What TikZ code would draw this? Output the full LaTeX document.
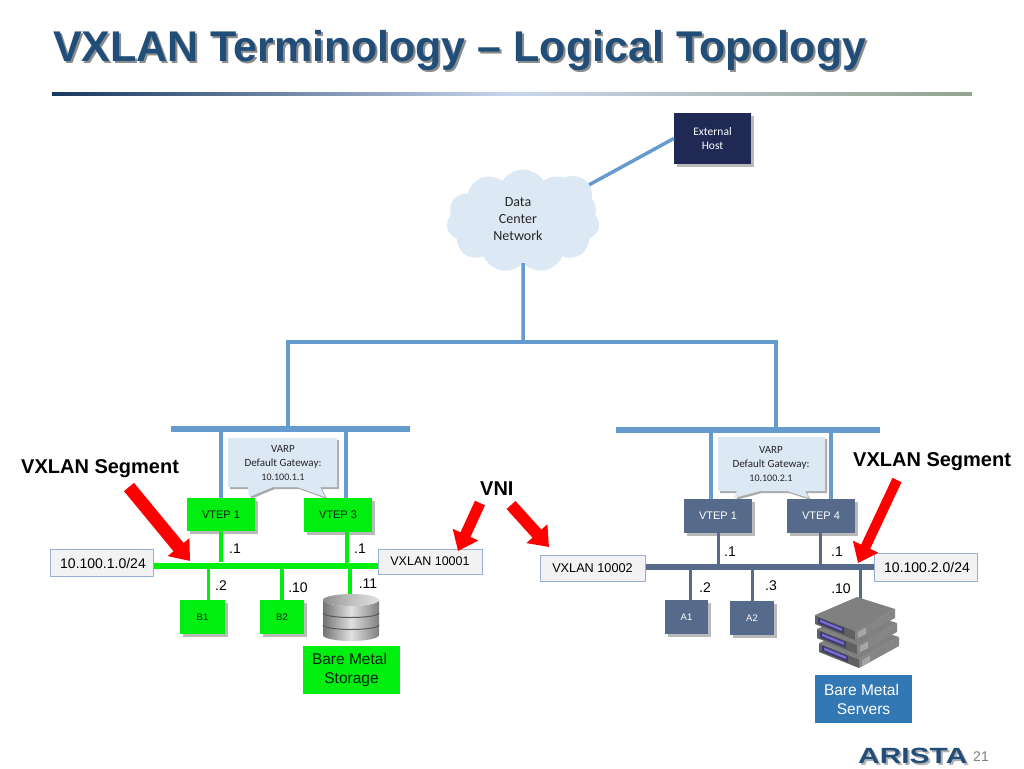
\documentclass[tikz,border=0pt]{standalone}
\usepackage{fontspec}
\setmainfont{Liberation Sans}
\newfontfamily\calibrifont{Carlito}
\newfontfamily\logofont[FakeStretch=1.36]{Liberation Sans}
\usetikzlibrary{arrows.meta,shadows,shapes.symbols}
\definecolor{linkblue}{RGB}{101,155,207}
\definecolor{pale}{RGB}{220,232,244}
\definecolor{bright}{RGB}{0,238,16}
\definecolor{slate}{RGB}{86,106,139}
\definecolor{titleblue}{RGB}{32,78,121}
\definecolor{hostnavy}{RGB}{32,41,84}
\definecolor{tagedge}{RGB}{150,175,212}
\definecolor{serverblue}{RGB}{50,120,180}
\definecolor{ruledark}{RGB}{23,55,94}
\definecolor{rulemid}{RGB}{200,214,236}
\definecolor{ruleend}{RGB}{147,164,143}
\definecolor{stripdark}{RGB}{62,58,110}
\definecolor{striplight}{RGB}{120,110,205}
\def\shadowtext#1#2{\makebox[0pt][l]{\hspace{2pt}\raisebox{-2pt}{\color{#1}#2}}#2}
\def\serverunit(#1,#2){
	\begin{scope}[shift={(#1,#2)}]
		\fill[black!62] (815,615) -- (855,631) -- (855,640) -- (815,624) -- cycle;
		\fill[black!48] (855,631) -- (895,609) -- (895,618) -- (855,640) -- cycle;
		\fill[black!50] (815,615) -- (857,597) -- (895,609) -- (855,631) -- cycle;
		\fill[stripdark] (818,617.5) -- (844,628) -- (844,634) -- (818,623.5) -- cycle;
		\fill[striplight] (820,619.5) -- (842,628.5) -- (842,631) -- (820,622) -- cycle;
		\fill[black!35] (858,632) -- (866,627.5) -- (866,634) -- (858,638) -- cycle;
	\end{scope}
}
\tikzset{
	link/.style={draw=linkblue, line width=3.5pt},
	busbar/.style={rectangle, inner sep=0pt, minimum height=6pt},
	greenlink/.style={draw=bright, line width=3.5pt},
	slatelink/.style={draw=slate, line width=3pt},
	softshadow/.style={drop shadow={shadow xshift=2.5pt, shadow yshift=-2.5pt, fill=black!55, opacity=.5}},
	greenbox/.style={rectangle, inner sep=0pt, fill=bright, softshadow, text=black!85!bright, font=\fontsize{11}{13}\selectfont},
	slatebox/.style={rectangle, inner sep=0pt, fill=slate, softshadow, text=white, font=\fontsize{11}{13}\selectfont},
	tagbox/.style={rectangle, inner sep=0pt, fill=black!5, draw=tagedge, line width=1pt, minimum height=27pt, font=\fontsize{14}{17}\selectfont},
	addr/.style={font=\fontsize{14}{17}\selectfont, inner sep=0pt},
	bigtext/.style={font=\fontsize{20}{24}\selectfont\bfseries, inner sep=0pt, anchor=base west},
	redarrow/.style={draw=red, line width=#1, -{Triangle[width=27pt,length=18pt]}},
	varptext/.style={font=\calibrifont\fontsize{11}{15}\selectfont, align=center, inner sep=0pt, text=black!85},
	callout/.style={fill=pale, drop shadow={shadow xshift=2pt, shadow yshift=-2pt, fill=black!60, opacity=.55}},
}
\begin{document}
\begin{tikzpicture}[x=1pt, y=-1pt]
	\useasboundingbox (0,0) rectangle (1024,768);

	%%%%% title %%%%%
	\node[anchor=base west, inner sep=0pt, text=titleblue, font=\fontsize{43}{50}\selectfont\bfseries] (title) at (53,61) {\shadowtext{black!45}{VXLAN Terminology – Logical Topology}};
	\shade[left color=ruledark, right color=ruleend, middle color=rulemid] (52,92.5) rectangle (972,95);

	%%%%% core %%%%%
	\node[cloud, cloud puffs=11, cloud puff arc=115, aspect=1.5, inner sep=0pt, minimum width=153pt, minimum height=103pt, fill=pale] (dcn) at (523,221) {};
	\fill[pale] (573,195) circle (19);
	\node[varptext, font=\calibrifont\fontsize{14}{17}\selectfont] (dcntext) at (518,219) {Data\\Center\\Network};
	\node[rectangle, inner sep=0pt, minimum width=77pt, minimum height=51pt, fill=hostnavy, softshadow, text=white, align=center, font=\calibrifont\fontsize{11.5}{14}\selectfont] (exthost) at (712.5,138.5) {External\\Host};
	\draw[link, shorten >=13pt] (exthost.west) -- (dcn);

	\coordinate (corejoin) at (523,342);
	\coordinate (coreleft) at (288,342);
	\coordinate (coreright) at (776,342);
	\node[busbar, fill=linkblue, minimum width=239pt] (busleft) at (290.5,429) {};
	\node[busbar, fill=linkblue, minimum width=264pt] (busright) at (748,430) {};
	\draw[link] (dcn.south) -- (corejoin);
	\draw[link, line cap=rect] (coreleft) -- (coreright);
	\draw[link] (coreleft) -- (coreleft |- busleft.north);
	\draw[link] (coreright) -- (coreright |- busright.north);

	%%%%% left segment %%%%%
	\node[greenbox, minimum width=68pt, minimum height=33pt] (vtepa) at (221,514.5) {VTEP 1};
	\node[greenbox, minimum width=68pt, minimum height=34pt] (vtepb) at (338,515) {VTEP 3};
	\coordinate (upb) at (346,429);
	\draw[link] (busleft.south -| vtepa) -- (vtepa.north);
	\draw[link] (upb) -- (upb |- vtepb.north);

	\path[callout] (228,438) -- (337,438) -- (337,487) -- (320,487) -- (325,497) -- (297,487) -- (273,487) -- (249,497) -- (248,487) -- (228,487) -- cycle;
	\node[varptext, font=\calibrifont\fontsize{11}{14}\selectfont] (varpa) at (283,463) {VARP\\Default Gateway:\\{\fontsize{10}{14}\selectfont 10.100.1.1}};

	\node[busbar, fill=bright, minimum width=224pt] (busgreen) at (266,565.5) {};
	\node[tagbox, minimum width=103pt] (subneta) at (101.5,563) {\hspace*{3pt}10.100.1.0/24};
	\node[tagbox, minimum width=104pt, minimum height=25pt, font=\fontsize{12.5}{15}\selectfont] (vnia) at (430,561.5) {VXLAN 10001};
	\coordinate (dnb) at (347,565);
	\coordinate (stor) at (350,595);
	\draw[greenlink] (vtepa.south) -- (vtepa.south |- busgreen.north);
	\draw[greenlink] (dnb |- vtepb.south) -- (dnb);

	\node[greenbox, minimum width=45pt, minimum height=34pt, font=\fontsize{9.5}{11}\selectfont] (hosta) at (202.5,617) {B1};
	\node[greenbox, minimum width=44pt, minimum height=34pt, font=\fontsize{9.5}{11}\selectfont] (hostb) at (282,617) {B2};
	\draw[greenlink] ([xshift=6pt]hosta.north |- busgreen.south) -- ([xshift=6pt]hosta.north);
	\draw[greenlink] (busgreen.south -| hostb) -- (hostb.north);
	\draw[greenlink] (stor |- busgreen.south) -- (stor);

	\node[addr] (la) at (235,549) {.1};
	\node[addr] (lb) at (360,549) {.1};
	\node[addr] (lc) at (221,586) {.2};
	\node[addr] (ld) at (298,588) {.10};
	\node[addr] (le) at (368,584) {.11};

	% disk stack
	\shade[left color=black!55, right color=black!50, middle color=black!12] (323,600) -- (323,635) arc (180:0:28 and 6) -- (379,600) arc (0:180:28 and 6) -- cycle;
	\draw[black!65, line width=1pt] (323,613) arc (180:0:28 and 4.5);
	\draw[black!65, line width=1pt] (323,625) arc (180:0:28 and 4.5);
	\shade[left color=black!45, right color=black!12, middle color=black!25] (351,600) ellipse (28 and 6);

	\node[rectangle, inner sep=0pt, minimum width=97pt, minimum height=48pt, fill=bright, align=center, text=black!85!bright, font=\fontsize{15.5}{19}\selectfont] (baremetala) at (351.5,670) {Bare Metal\hspace*{4pt}\\Storage};

	%%%%% right segment %%%%%
	\node[slatebox, minimum width=68pt, minimum height=34pt] (vtepc) at (718,516) {VTEP 1};
	\node[slatebox, minimum width=68pt, minimum height=34pt] (vtepd) at (821,516) {VTEP 4};
	\coordinate (upc) at (711,430);
	\coordinate (upd) at (831,430);
	\draw[link] (upc) -- (upc |- vtepc.north);
	\draw[link] (upd) -- (upd |- vtepd.north);

	\path[callout] (718,437) -- (825,437) -- (825,491) -- (805,491) -- (809,498) -- (787,491) -- (760,491) -- (734,498) -- (737,491) -- (718,491) -- cycle;
	\node[varptext, font=\calibrifont\fontsize{11}{14}\selectfont] (varpb) at (771,464) {VARP\\Default Gateway:\\{\fontsize{10}{14}\selectfont 10.100.2.1}};

	\node[busbar, fill=slate, minimum width=230pt] (busslate) at (759,567) {};
	\node[tagbox, minimum width=105pt, minimum height=26pt, font=\fontsize{12.7}{15}\selectfont] (vnib) at (592.5,568) {VXLAN 10002};
	\node[tagbox, minimum width=103pt, minimum height=28pt] (subnetb) at (925.5,567) {\hspace*{3pt}10.100.2.0/24};
	\draw[slatelink] (vtepc.south) -- (vtepc.south |- busslate.north);
	\draw[slatelink] ([xshift=-1pt]vtepd.south) -- ([xshift=-1pt]vtepd.south |- busslate.north);

	\node[slatebox, minimum width=43pt, minimum height=34pt, font=\fontsize{9.5}{11}\selectfont] (hostc) at (686.5,617) {A1};
	\node[slatebox, minimum width=44pt, minimum height=34pt, font=\fontsize{9.5}{11}\selectfont] (hostd) at (752,618) {A2};
	\coordinate (srv) at (860,600);
	\draw[slatelink] ([xshift=3.5pt]hostc.north) -- ([xshift=3.5pt]hostc.north |- busslate.south);
	\draw[slatelink] (hostd.north) -- (hostd.north |- busslate.south);
	\draw[slatelink] (srv) -- (srv |- busslate.south);

	\node[addr] (lf) at (730,552) {.1};
	\node[addr] (lg) at (837,552) {.1};
	\node[addr] (lh) at (705,588) {.2};
	\node[addr] (li) at (771,586) {.3};
	\node[addr] (lj) at (841,589) {.10};

	\serverunit(4,28)
	\serverunit(2,14)
	\serverunit(0,0)

	\node[rectangle, inner sep=0pt, minimum width=97pt, minimum height=48pt, fill=serverblue, align=center, text=white, font=\fontsize{15.5}{19}\selectfont] (baremetalb) at (863.5,699) {Bare Metal\hspace*{4pt}\\Servers};

	%%%%% callouts %%%%%
	\node[bigtext] (segmenta) at (21,473) {VXLAN Segment};
	\node[bigtext] (segmentb) at (853,466) {VXLAN Segment};
	\node[bigtext] (vni) at (480,495) {VNI};

	\coordinate (ra) at (129,487);
	\coordinate (rb) at (190,561);
	\coordinate (rc) at (480,503);
	\coordinate (rd) at (458,551);
	\coordinate (re) at (511,505);
	\coordinate (rf) at (549,547);
	\coordinate (rg) at (897,480);
	\coordinate (rh) at (858,563);
	\draw[redarrow=13pt] (ra) -- (rb);
	\draw[redarrow=11pt] (rc) -- (rd);
	\draw[redarrow=12pt] (re) -- (rf);
	\draw[redarrow=10pt] (rg) -- (rh);

	%%%%% footer %%%%%
	\node[anchor=base west, inner sep=0pt, text=titleblue, font=\logofont\fontsize{22}{24}\selectfont\bfseries] (logo) at (858,763) {\shadowtext{black!30}{ARISTA}};
	\node[anchor=base west, inner sep=0pt, text=black!50, font=\fontsize{14}{16}\selectfont] (pagenum) at (973,761) {21};
\end{tikzpicture}
\end{document}
